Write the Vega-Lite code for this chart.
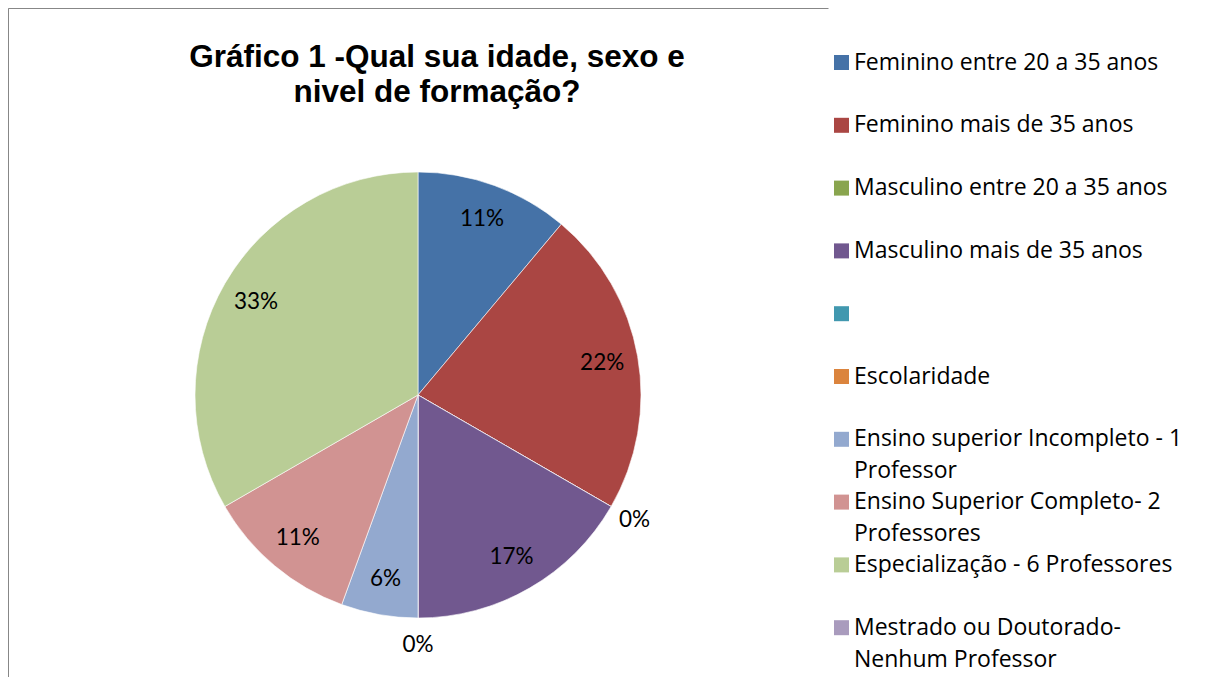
{
  "$schema": "https://vega.github.io/schema/vega-lite/v6.json",
  "width": 820,
  "height": 774,
  "autosize": {"type": "none"},
  "padding": {"left": 8, "top": 8, "right": 395, "bottom": 0},
  "background": "#ffffff",
  "view": {"stroke": "#878787", "strokeWidth": 1, "strokeDash": [820, 1594, 774]},
  "config": {"style": {"guide-label": {"lineHeight": 32}}},
  "title": {
    "text": ["Gráfico 1 -Qual sua idade, sexo e", "nivel de formação?"],
    "font": "Liberation Sans",
    "fontSize": 31.5,
    "fontWeight": "bold",
    "color": "#000000",
    "lineHeight": 35,
    "anchor": "middle",
    "baseline": "top",
    "dx": 19,
    "offset": -100
  },
  "data": {
    "values": [
      {"idx": 1, "cat": "Feminino entre 20 a 35 anos", "n": 2, "pct": 0.11},
      {"idx": 2, "cat": "Feminino mais de 35 anos", "n": 4, "pct": 0.22},
      {"idx": 3, "cat": "Masculino entre 20 a 35 anos", "n": 0, "pct": 0},
      {"idx": 4, "cat": "Masculino mais de 35 anos", "n": 3, "pct": 0.17},
      {"idx": 5, "cat": " ", "n": null, "pct": null},
      {"idx": 6, "cat": "Escolaridade", "n": 0, "pct": 0},
      {"idx": 7, "cat": "Ensino superior Incompleto - 1 Professor", "n": 1, "pct": 0.06},
      {"idx": 8, "cat": "Ensino Superior Completo- 2 Professores", "n": 2, "pct": 0.11},
      {"idx": 9, "cat": "Especialização - 6 Professores", "n": 6, "pct": 0.33},
      {"idx": 10, "cat": "Mestrado ou Doutorado- Nenhum Professor", "n": null, "pct": null}
    ]
  },
  "encoding": {
    "theta": {"field": "n", "type": "quantitative", "stack": true},
    "order": {"field": "idx", "type": "quantitative"},
    "color": {
      "field": "cat",
      "type": "nominal",
      "scale": {
        "domain": [
          "Feminino entre 20 a 35 anos",
          "Feminino mais de 35 anos",
          "Masculino entre 20 a 35 anos",
          "Masculino mais de 35 anos",
          " ",
          "Escolaridade",
          "Ensino superior Incompleto - 1 Professor",
          "Ensino Superior Completo- 2 Professores",
          "Especialização - 6 Professores",
          "Mestrado ou Doutorado- Nenhum Professor"
        ],
        "range": ["#4572A7", "#AA4643", "#89A54E", "#71588F", "#4198AF", "#DB843D", "#93A9CF", "#D19392", "#B9CD96", "#A99BBD"]
      },
      "legend": {
        "orient": "none",
        "legendX": 822,
        "legendY": 43,
        "title": null,
        "symbolType": "square",
        "symbolSize": 225,
        "symbolStrokeWidth": 0,
        "labelFont": "Open Sans",
        "labelFontSize": 23,
        "labelColor": "#000000",
        "labelOffset": 1,
        "labelLimit": 400,
        "rowPadding": 6.8,
        "labelExpr": "datum.label == 'Ensino superior Incompleto - 1 Professor' ? ['Ensino superior Incompleto - 1', 'Professor'] : datum.label == 'Ensino Superior Completo- 2 Professores' ? ['Ensino Superior Completo- 2', 'Professores'] : datum.label == 'Mestrado ou Doutorado- Nenhum Professor' ? ['Mestrado ou Doutorado-', 'Nenhum Professor'] : [datum.label, ' ']"
      }
    }
  },
  "layer": [
    {
      "mark": {"type": "arc", "outerRadius": 223, "stroke": "#ffffff", "strokeWidth": 0.6}
    },
    {
      "mark": {"type": "text", "radius": 187, "font": "Lato", "fontSize": 22.5},
      "encoding": {
        "text": {"condition": {"test": "datum.n > 0", "field": "pct", "format": ".0%"}, "value": ""},
        "color": {"value": "#000000"}
      }
    },
    {
      "mark": {"type": "text", "radius": 250, "font": "Lato", "fontSize": 22.5},
      "encoding": {
        "text": {"condition": {"test": "datum.n == 0", "field": "pct", "format": ".0%"}, "value": ""},
        "color": {"value": "#000000"}
      }
    }
  ]
}
